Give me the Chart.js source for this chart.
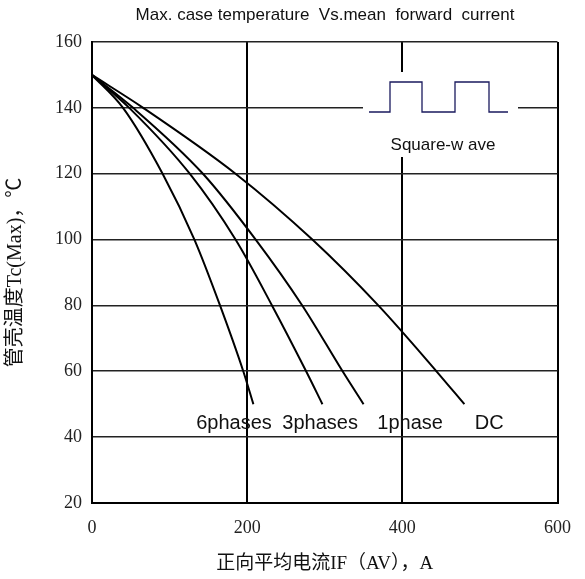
<!DOCTYPE html>
<html lang="zh-CN">
<head>
  <meta charset="UTF-8" />
  <title>Max. case temperature Vs. mean forward current</title>
  <style>
    * { box-sizing: border-box; }
    html, body { margin: 0; padding: 0; background: #fff; }
    #wrap { width: 585px; height: 579px; position: relative; }
    canvas { display: block; }
  </style>
</head>
<body>
  <div id="wrap"><canvas id="grafico" width="585" height="579"></canvas></div>

  <script src="https://cdn.jsdelivr.net/npm/chart.js"></script>
  <script>
    // temperatura (°C) comum a todas as curvas
    const tempLevels = [150, 140, 120, 100, 80, 60, 50];
    // corrente média (A) em cada nível de temperatura
    const current6ph = [0, 40, 91, 132, 165, 195, 208];
    const current3ph = [0, 48, 126, 185, 232, 276, 297];
    const current1ph = [0, 53, 143, 211, 271, 323, 350];
    const currentDC  = [0, 66, 185, 284, 369, 444, 480];
    const curveNames = ['6phases', '3phases', '1phase', 'DC'];
    const xTicks = [0, 200, 400, 600];
    const yTicks = [20, 40, 60, 80, 100, 120, 140, 160];

    const toPoints = cur => cur.map((x, i) => ({ x, y: tempLevels[i] }));

    const serie = (nome, cur) => ({
      label: nome,
      data: toPoints(cur),
      showLine: true,
      borderColor: '#000',
      borderWidth: 2,
      pointRadius: 0,
      cubicInterpolationMode: 'monotone',
      fill: false
    });

    // texto, caixa branca e desenho da onda quadrada
    const extras = {
      id: 'extras',
      beforeDatasetsDraw(chart) {
        const c = chart.ctx;
        c.save();
        c.fillStyle = '#fff';
        c.fillRect(363, 72, 155, 85);
        c.restore();
      },
      afterDraw(chart) {
        const c = chart.ctx;
        const xs = chart.scales.x, ys = chart.scales.y;
        c.save();
        // titulo
        c.fillStyle = '#111';
        c.font = '17px "Liberation Sans", Arial, sans-serif';
        c.textAlign = 'center';
        c.textBaseline = 'middle';
        c.fillText('Max. case temperature  Vs.mean  forward  current', 325, 15);

        // rótulos das curvas
        const posLabels = [[183, 44], [294, 44], [410, 44], [512, 44]];
        c.font = '20px "Liberation Sans", Arial, sans-serif';
        curveNames.forEach((n, i) => {
          c.fillText(n, xs.getPixelForValue(posLabels[i][0]), ys.getPixelForValue(posLabels[i][1]));
        });

        // onda quadrada
        c.strokeStyle = '#1a1a5e';
        c.lineWidth = 1.3;
        c.beginPath();
        c.moveTo(369, 112); c.lineTo(390, 112); c.lineTo(390, 82); c.lineTo(422, 82);
        c.lineTo(422, 112); c.lineTo(455, 112); c.lineTo(455, 82); c.lineTo(489, 82);
        c.lineTo(489, 112); c.lineTo(508, 112);
        c.stroke();
        c.font = '17px "Liberation Sans", Arial, sans-serif';
        c.fillStyle = '#111';
        c.fillText('Square-w ave', 443, 145);
        c.restore();
      }
    };

    const ctx = document.getElementById('grafico').getContext('2d');
    const grafico = new Chart(ctx, {
      type: 'scatter',
      data: {
        datasets: [
          serie(curveNames[0], current6ph),
          serie(curveNames[1], current3ph),
          serie(curveNames[2], current1ph),
          serie(curveNames[3], currentDC)
        ]
      },
      options: {
        responsive: false,
        animation: false,
        devicePixelRatio: 1,
        layout: { padding: { top: 42, right: 25, left: 0, bottom: 0 } },
        plugins: {
          legend: { display: false },
          title: { display: false },
          tooltip: { enabled: false }
        },
        scales: {
          x: {
            type: 'linear',
            min: 0, max: 600,
            afterBuildTicks: s => { s.ticks = xTicks.map(v => ({ value: v })); },
            afterFit: s => { s.height = 76; },
            grid: { color: '#000', lineWidth: 2, drawTicks: false },
            border: { color: '#000', width: 2 },
            ticks: {
              color: '#222',
              padding: 14,
              font: { family: '"Liberation Serif", "DejaVu Serif", serif', size: 18 }
            },
            title: {
              display: true,
              text: '正向平均电流IF（AV），A',
              color: '#111',
              padding: { top: 8 },
              font: { family: '"Liberation Serif", "Noto Sans CJK SC", serif', size: 19 }
            }
          },
          y: {
            type: 'linear',
            min: 20, max: 160,
            afterBuildTicks: s => { s.ticks = yTicks.map(v => ({ value: v })); },
            afterFit: s => { s.width = 92; },
            grid: { color: '#222', lineWidth: 1.6, drawTicks: false },
            border: { color: '#000', width: 2 },
            ticks: {
              color: '#222',
              padding: 10,
              font: { family: '"Liberation Serif", "DejaVu Serif", serif', size: 18 }
            },
            title: {
              display: true,
              text: '管壳温度Tc(Max)，℃',
              color: '#111',
              padding: { bottom: 0, top: 4 },
              font: { family: '"Liberation Serif", "Noto Sans CJK SC", serif', size: 20 }
            }
          }
        }
      },
      plugins: [extras]
    });
  </script>
</body>
</html>
